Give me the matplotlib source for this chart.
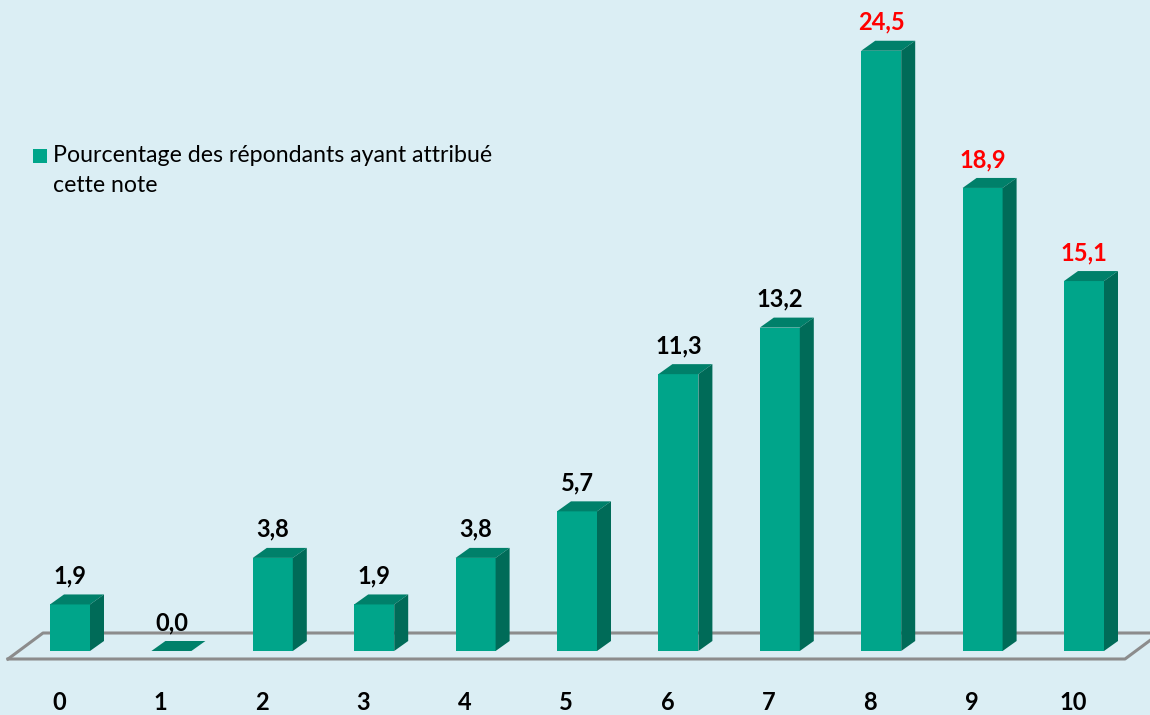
import matplotlib.pyplot as plt
from matplotlib.patches import Polygon, Rectangle

# data
notes = ['0', '1', '2', '3', '4', '5', '6', '7', '8', '9', '10']
pct = [1.9, 0.0, 3.8, 1.9, 3.8, 5.7, 11.3, 13.2, 24.5, 18.9, 15.1]
highlight = [False] * 8 + [True] * 3
legend_lines = ['Pourcentage des répondants ayant attribué', 'cette note']

BG = '#dbeef4'
FRONT = '#00a58a'
SIDE = '#006b58'
TOP = '#00806a'
FLOOR = '#8c8c8c'

W, H = 1150, 715
fig = plt.figure(figsize=(W / 100, H / 100), dpi=100, facecolor=BG)
ax = fig.add_axes([0, 0, 1, 1])
ax.set_facecolor(BG)

# axis limits chosen so bar centres / baseline land where they do in the original
px_x = 101.4   # pixels per category
px_y = 24.5    # pixels per percent
x0_px, y0_px = 70, 651
ax.set_xlim(-x0_px / px_x, (W - x0_px) / px_x)
ax.set_ylim(-(H - y0_px) / px_y, y0_px / px_y)
ax.axis('off')

# depth of the 3d look, in data units
dx = 14 / px_x
dy = 10 / px_y
bw = 40 / px_x

# floor (drawn first, bars cover it)
fl, fr = -(x0_px - 8) / px_x, 10 + (1125 - 1084) / px_x
back_y, front_y = (y0_px - 633) / px_y, -(659 - y0_px) / px_y
bl = fl + 35 / px_x
ax.plot([fl, bl, ax.get_xlim()[1] + 0.2], [front_y, back_y, back_y], color=FLOOR, lw=2.2, zorder=1)
ax.plot([fl, fr, fr + 35 / px_x], [front_y, front_y, back_y], color=FLOOR, lw=2.2, zorder=1)

xs = list(range(len(notes)))
ax.bar(xs, pct, width=bw, color=FRONT, zorder=3)

for x, v, red in zip(xs, pct, highlight):
    l, r = x - bw / 2, x + bw / 2
    top = [(l, v), (r, v), (r + dx, v + dy), (l + dx, v + dy)]
    ax.add_patch(Polygon(top, closed=True, color=TOP, zorder=3, lw=0))
    if v > 0:
        side = [(r, 0), (r + dx, dy), (r + dx, v + dy), (r, v)]
        ax.add_patch(Polygon(side, closed=True, color=SIDE, zorder=3, lw=0))
    ax.text(x, v + dy + 7 / px_y, f'{v:.1f}'.replace('.', ','), ha='center', va='bottom',
            fontsize=17, fontweight='bold', family='Lato',
            color='#ff0000' if red else 'black', zorder=4)
    ax.text(x - 11 / px_x, -(703 - y0_px) / px_y, notes[x], ha='center', va='center',
            fontsize=17, fontweight='bold', family='Lato', color='black')

# legend, laid out by hand (square sits next to the first line)
fig.patches.append(Rectangle((33 / W, 1 - 163 / H), 14 / W, 14 / H, transform=fig.transFigure,
                             color=FRONT, lw=0))
for i, line in enumerate(legend_lines):
    fig.text(53 / W, 1 - (162 + 30 * i) / H, line, ha='left', va='baseline',
             family='Lato', fontsize=16.7, color='black')

fig.savefig('out.png', dpi=100, facecolor=BG)
